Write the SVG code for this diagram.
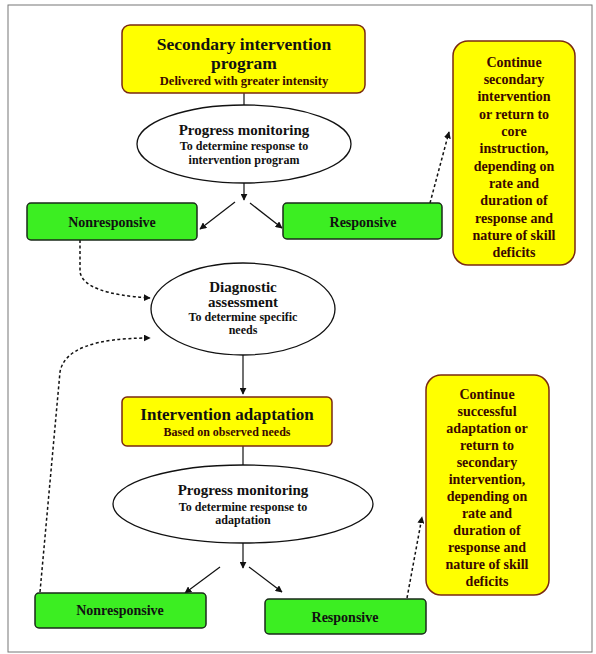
<svg xmlns="http://www.w3.org/2000/svg" width="596" height="654" viewBox="0 0 596 654">
<defs>
<marker id="ah" viewBox="0 0 10 10" refX="9" refY="5" markerWidth="7" markerHeight="7" orient="auto-start-reverse" markerUnits="userSpaceOnUse">
<path d="M0,0 L10,5 L0,10 z" fill="#111"/>
</marker>
<style>
.y{fill:#ffff00;stroke:#7a2a10;stroke-width:1.5}
.g{fill:#3cee22;stroke:#1a2a1a;stroke-width:1.5}
.e{fill:#fff;stroke:#111;stroke-width:1.3}
.t{font-family:"Liberation Serif","Times New Roman",serif;font-weight:bold;text-anchor:middle;fill:#111}
.r{fill:#3a0800}
.s{stroke:#111;stroke-width:1.2;fill:none}
.d{stroke:#111;stroke-width:1.5;fill:none;stroke-dasharray:3,2.5}
</style>
</defs>
<rect x="8" y="5" width="584" height="647" fill="#fff" stroke="#777" stroke-width="1"/>

<g id="connectors">
<line class="s" x1="244" y1="93" x2="244" y2="105"/>
<line class="s" x1="244" y1="183" x2="244" y2="200" marker-end="url(#ah)"/>
<line class="s" x1="235" y1="202" x2="200" y2="229" marker-end="url(#ah)"/>
<line class="s" x1="250" y1="203" x2="282" y2="228" marker-end="url(#ah)"/>
<line class="d" x1="430" y1="203" x2="449" y2="132" marker-end="url(#ah)"/>
<path class="d" d="M80,240 L80,272 Q84,294 150,298" marker-end="url(#ah)"/>
<path class="d" d="M40,592 L60,372 Q66,338 150,338" marker-end="url(#ah)"/>
<line class="s" x1="243" y1="355" x2="243" y2="394" marker-end="url(#ah)"/>
<line class="s" x1="243" y1="446" x2="243" y2="465"/>
<line class="s" x1="243" y1="543" x2="243" y2="568" marker-end="url(#ah)"/>
<line class="s" x1="220" y1="567" x2="185" y2="593" marker-end="url(#ah)"/>
<line class="s" x1="249" y1="567" x2="282" y2="592" marker-end="url(#ah)"/>
<line class="d" x1="407" y1="598" x2="422" y2="517" marker-end="url(#ah)"/>
</g>

<g id="secondary-program">
<rect class="y" x="122" y="25" width="243" height="68" rx="8"/>
<text class="t" x="244" y="50" font-size="17.5">Secondary intervention</text>
<text class="t" x="244" y="69" font-size="17.5">program</text>
<text class="t r" x="244" y="85" font-size="12.5">Delivered with greater intensity</text>
</g>

<g id="progress-monitoring-1">
<ellipse class="e" cx="244" cy="144" rx="107" ry="39"/>
<text class="t" x="244" y="135" font-size="15">Progress monitoring</text>
<text class="t" x="244" y="149.5" font-size="12">To determine response to</text>
<text class="t" x="244" y="163.5" font-size="12">intervention program</text>
</g>

<g id="nonresponsive-1">
<rect class="g" x="27" y="203" width="170" height="37" rx="4"/>
<text class="t" x="112" y="226.5" font-size="14">Nonresponsive</text>
</g>

<g id="responsive-1">
<rect class="g" x="283" y="203" width="159" height="36" rx="4"/>
<text class="t" x="363" y="226.5" font-size="14">Responsive</text>
</g>

<g id="continue-1">
<rect class="y" x="453" y="41" width="122" height="224" rx="15"/>
<g class="t r" font-size="14">
<text x="514" y="66.5">Continue</text>
<text x="514" y="83.5">secondary</text>
<text x="514" y="101">intervention</text>
<text x="514" y="118.5">or return to</text>
<text x="514" y="135.5">core</text>
<text x="514" y="153">instruction,</text>
<text x="514" y="170.5">depending on</text>
<text x="514" y="187.5">rate and</text>
<text x="514" y="205">duration of</text>
<text x="514" y="222.5">response and</text>
<text x="514" y="239.5">nature of skill</text>
<text x="514" y="256.5">deficits</text>
</g>
</g>

<g id="diagnostic-assessment">
<ellipse class="e" cx="243" cy="309" rx="92" ry="46"/>
<text class="t" x="243" y="292" font-size="15">Diagnostic</text>
<text class="t" x="243" y="307" font-size="15">assessment</text>
<text class="t" x="243" y="320.5" font-size="12">To determine specific</text>
<text class="t" x="243" y="333.5" font-size="12">needs</text>
</g>

<g id="intervention-adaptation">
<rect class="y" x="122" y="397" width="210" height="49" rx="5"/>
<text class="t" x="227" y="420" font-size="17">Intervention adaptation</text>
<text class="t r" x="227" y="436" font-size="12">Based on observed needs</text>
</g>

<g id="progress-monitoring-2">
<ellipse class="e" cx="243" cy="504" rx="130" ry="39"/>
<text class="t" x="243" y="495" font-size="15">Progress monitoring</text>
<text class="t" x="243" y="511" font-size="12">To determine response to</text>
<text class="t" x="243" y="523.5" font-size="12">adaptation</text>
</g>

<g id="nonresponsive-2">
<rect class="g" x="35" y="593" width="171" height="35" rx="4"/>
<text class="t" x="120" y="615" font-size="14">Nonresponsive</text>
</g>

<g id="responsive-2">
<rect class="g" x="265" y="599" width="161" height="35" rx="4"/>
<text class="t" x="345" y="621.5" font-size="14">Responsive</text>
</g>

<g id="continue-2">
<rect class="y" x="426" y="375" width="123" height="220" rx="15"/>
<g class="t r" font-size="14">
<text x="487" y="398.5">Continue</text>
<text x="487" y="415.5">successful</text>
<text x="487" y="432.5">adaptation or</text>
<text x="487" y="449.5">return to</text>
<text x="487" y="466.5">secondary</text>
<text x="487" y="483.5">intervention,</text>
<text x="487" y="500.5">depending on</text>
<text x="487" y="517.5">rate and</text>
<text x="487" y="534.5">duration of</text>
<text x="487" y="551.5">response and</text>
<text x="487" y="568.5">nature of skill</text>
<text x="487" y="585.5">deficits</text>
</g>
</g>
</svg>
